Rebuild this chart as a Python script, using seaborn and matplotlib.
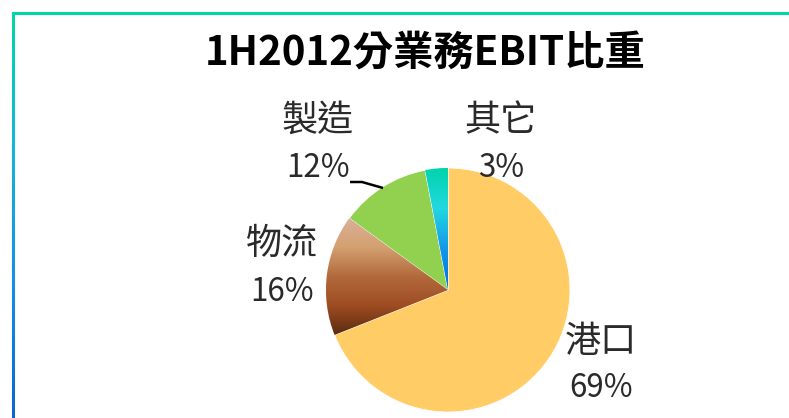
import matplotlib
matplotlib.use("Agg")
import matplotlib.pyplot as plt
import seaborn as sns
import numpy as np
from matplotlib.colors import LinearSegmentedColormap
from matplotlib.patches import Rectangle

# Data
segments = ['港口', '物流', '製造', '其它']
shares = [69, 16, 12, 3]
title = '1H2012分業務EBIT比重'

sns.set_theme(style="white")
plt.rcParams['font.family'] = ['Noto Sans CJK TC', 'DejaVu Sans']

W, H = 789, 418
CX, CY, R = 448, 290, 122  # pie centre / radius in pixels


def gradient_fill(ax, wedge, stops):
    """Paint a vertical gradient clipped to the wedge shape."""
    cmap = LinearSegmentedColormap.from_list('grad', stops)
    ext = wedge.get_path().get_extents()
    grad = np.linspace(0, 1, 256).reshape(-1, 1)
    im = ax.imshow(grad, extent=[ext.x0, ext.x1, ext.y0, ext.y1], cmap=cmap,
                   aspect='auto', origin='upper', zorder=wedge.get_zorder() + 0.1,
                   interpolation='bicubic')
    im.set_clip_path(wedge)


fig = plt.figure(figsize=(W / 100, H / 100), dpi=100)
fig.patch.set_facecolor('white')

# frame: teal top rule and teal->blue left rule
fig.add_artist(Rectangle((12 / W, 1 - 15 / H), 1, 3 / H, transform=fig.transFigure,
                         color='#00D4AA', lw=0))
lax = fig.add_axes([12 / W, 0, 3 / W, 1 - 12 / H])
lax.imshow(np.linspace(0, 1, 256).reshape(-1, 1), aspect='auto', origin='upper',
           cmap=LinearSegmentedColormap.from_list('edge', ['#00D6A8', '#10B8D8', '#1590E6', '#0A66D2']))
lax.axis('off')

# main axes: 1 data unit == pie radius, origin at pie centre
ax = fig.add_axes([0, 0, 1, 1])
colors = ['#FFCC66', '#C07848', '#92D050', '#18B0E0']
wedges, _ = ax.pie(shares, colors=colors, startangle=90, counterclock=False,
                   wedgeprops=dict(edgecolor='white', linewidth=0.6))

gradient_fill(ax, wedges[1], ['#DAB09A', '#D4A070', '#B26A3C', '#9E4C22', '#5A2C10'])
gradient_fill(ax, wedges[3], ['#00D4AA', '#22D8E0', '#1398E8', '#0070E0'])

ax.set_xlim(-CX / R, (W - CX) / R)
ax.set_ylim(-(H - CY) / R, CY / R)
ax.set_aspect('auto')
ax.axis('off')


def px(x, y):
    return (x - CX) / R, (CY - y) / R


# label anchors (pixel centres of name / percentage lines)
label_pos = [(601, 342, 388), (282, 244, 292), (318, 121, 168), (501, 121, 168)]
for name, val, (lx, ny, py) in zip(segments, shares, label_pos):
    ax.text(*px(lx, ny), name, ha='center', va='center', fontsize=26, color='#2a2a2a')
    ax.text(*px(lx, py), f'{val}%', ha='center', va='center', fontsize=22.5, color='#2a2a2a')

# leader line for the manufacturing slice
lx = [px(350, 182)[0], px(362, 182)[0], px(383, 188)[0]]
ly = [px(350, 182)[1], px(362, 182)[1], px(383, 188)[1]]
ax.plot(lx, ly, color='black', lw=1.8, solid_capstyle='butt')

fig.text(425 / W, 1 - 53 / H, title, ha='center', va='center', fontsize=29,
         fontweight='bold', color='black')

fig.savefig('out.png', dpi=100, facecolor='white')
plt.close(fig)
